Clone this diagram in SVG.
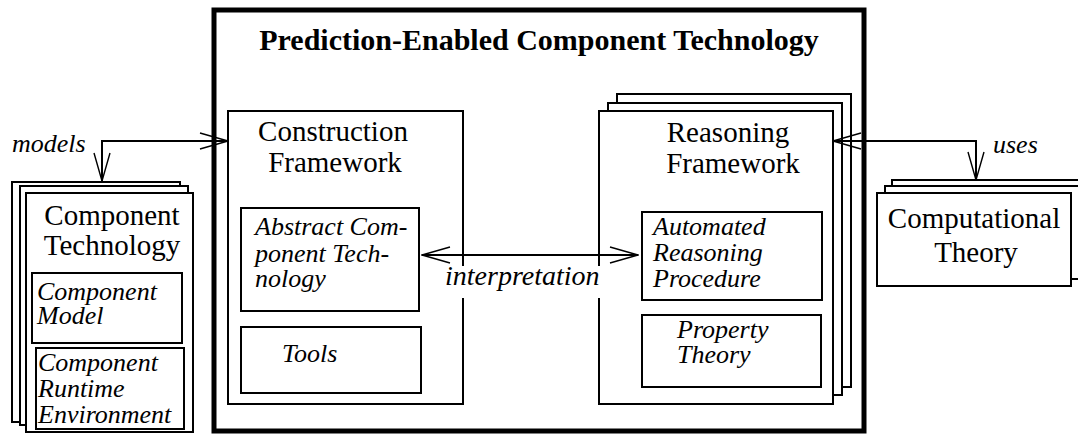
<svg xmlns="http://www.w3.org/2000/svg" width="1078" height="434" viewBox="0 0 1078 434">
<defs>
<style>
.box{fill:#fff;stroke:#000;stroke-width:2}
.frame{fill:none;stroke:#000;stroke-width:5}
.t{font-family:"Liberation Serif","Times New Roman",serif;font-size:29px;fill:#000}
.i{font-family:"Liberation Serif","Times New Roman",serif;font-size:26px;font-style:italic;fill:#000}
.il{font-family:"Liberation Serif","Times New Roman",serif;font-size:28px;font-style:italic;fill:#000}
.title{font-family:"Liberation Serif","Times New Roman",serif;font-size:30px;font-weight:bold;fill:#000}
.c{fill:none;stroke:#000;stroke-width:2}
</style>
<marker id="arr" viewBox="0 0 30 18" refX="29" refY="9" markerWidth="30" markerHeight="18" markerUnits="userSpaceOnUse" orient="auto-start-reverse">
<path d="M1,1 L29,9 L1,17" fill="none" stroke="#000" stroke-width="1.4"/>
</marker>
</defs>
<rect width="1078" height="434" fill="#fff"/>

<g id="pect">
<rect class="frame" x="214" y="10" width="650" height="421"/>
<text class="title" x="539" y="50" text-anchor="middle">Prediction-Enabled Component Technology</text>
</g>

<g id="component-technology">
<rect class="box" x="12" y="182" width="168" height="240"/>
<rect class="box" x="20" y="186" width="168" height="239"/>
<rect class="box" x="26" y="193" width="167" height="239"/>
<text class="t" x="112" y="225" text-anchor="middle">Component</text>
<text class="t" x="112" y="255" text-anchor="middle">Technology</text>
</g>
<g id="component-model">
<rect class="box" x="32" y="273" width="150" height="70"/>
<text class="i" x="37" y="300">Component</text>
<text class="i" x="37" y="324">Model</text>
</g>
<g id="component-runtime">
<rect class="box" x="36" y="348" width="148" height="81"/>
<text class="i" x="38" y="371">Component</text>
<text class="i" x="38" y="397">Runtime</text>
<text class="i" x="38" y="423">Environment</text>
</g>

<g id="construction-framework">
<rect class="box" x="228" y="111" width="235" height="293"/>
<text class="t" x="333" y="141" text-anchor="middle">Construction</text>
<text class="t" x="335" y="172" text-anchor="middle">Framework</text>
</g>
<g id="abstract-component-technology">
<rect class="box" x="241" y="208" width="178" height="103"/>
<text class="i" x="255" y="235">Abstract Com-</text>
<text class="i" x="255" y="262">ponent Tech-</text>
<text class="i" x="255" y="287">nology</text>
</g>
<g id="tools">
<rect class="box" x="241" y="327" width="180" height="66"/>
<text class="i" x="282" y="362">Tools</text>
</g>

<g id="reasoning-framework">
<rect class="box" x="617" y="94" width="234" height="293"/>
<rect class="box" x="608" y="103" width="234" height="292"/>
<rect class="box" x="599" y="111" width="234" height="293"/>
<text class="t" x="728" y="142" text-anchor="middle">Reasoning</text>
<text class="t" x="733" y="173" text-anchor="middle">Framework</text>
</g>
<g id="automated-reasoning-procedure">
<rect class="box" x="642" y="212" width="180" height="88"/>
<text class="i" x="653" y="235">Automated</text>
<text class="i" x="653" y="261">Reasoning</text>
<text class="i" x="653" y="287">Procedure</text>
</g>
<g id="property-theory">
<rect class="box" x="642" y="315" width="179" height="72"/>
<text class="i" x="677" y="338">Property</text>
<text class="i" x="677" y="363">Theory</text>
</g>

<g id="computational-theory">
<rect class="box" x="892" y="180" width="200" height="93"/>
<rect class="box" x="885" y="186" width="200" height="93"/>
<rect class="box" x="877" y="193" width="194" height="93"/>
<text class="t" x="974" y="228" text-anchor="middle">Computational</text>
<text class="t" x="976" y="262" text-anchor="middle">Theory</text>
</g>

<g id="connectors">
<path class="c" d="M228,141 H102 V181" marker-start="url(#arr)" marker-end="url(#arr)"/>
<text class="i" x="12" y="152">models</text>
<path class="c" d="M422,255 H638" marker-start="url(#arr)" marker-end="url(#arr)"/>
<rect x="443" y="266" width="160" height="32" fill="#fff"/>
<text class="il" x="445" y="285">interpretation</text>
<path class="c" d="M833,141 H976 V180" marker-start="url(#arr)" marker-end="url(#arr)"/>
<text class="i" x="993" y="153">uses</text>
</g>
</svg>
